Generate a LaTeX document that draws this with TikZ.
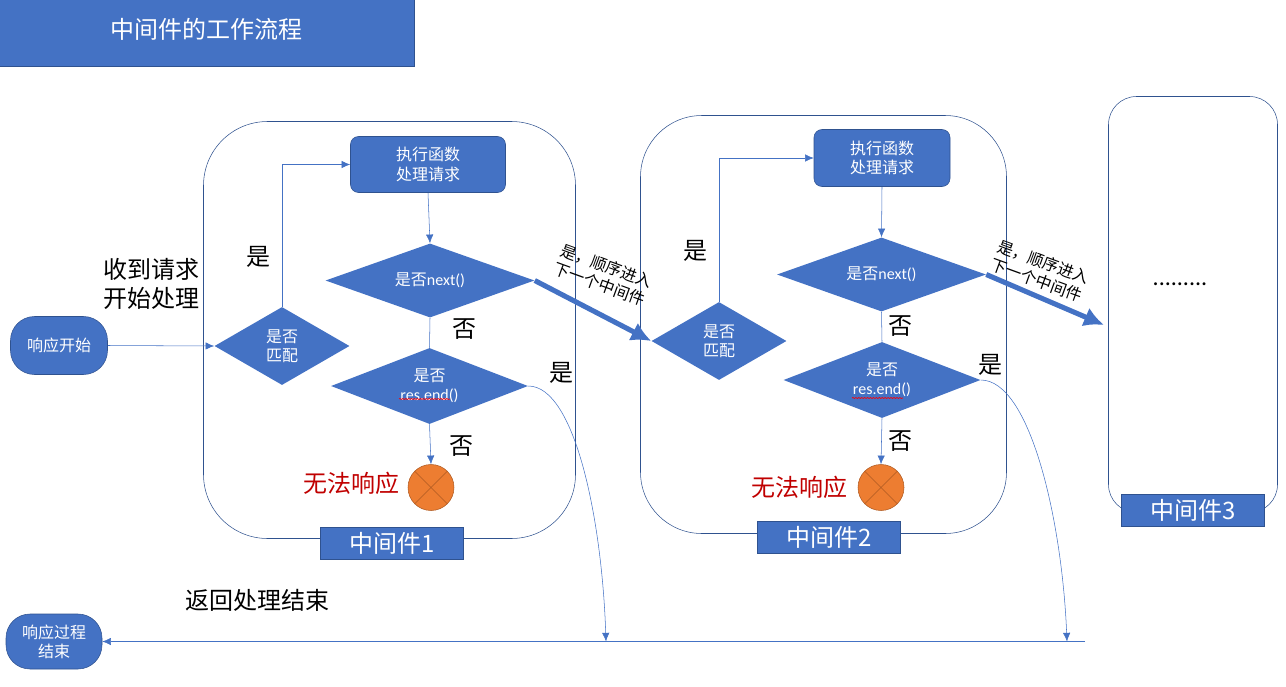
\documentclass[tikz,border=0pt]{standalone}
\usepackage{fontspec}
\setmainfont{Noto Sans CJK SC}
\newfontfamily\latin{Carlito}
\usetikzlibrary{arrows.meta, shapes.geometric, decorations.pathmorphing}
\pgfdeclarelayer{edgelayer}
\pgfdeclarelayer{nodelayer}
\pgfsetlayers{main,edgelayer,nodelayer}
\definecolor{fillblue}{HTML}{4472C4}
\definecolor{lineblue}{HTML}{2F528F}
\definecolor{fillorange}{HTML}{ED7D31}
\definecolor{lineorange}{HTML}{AE5A21}
\definecolor{warnred}{HTML}{C00000}
\tikzstyle{small}=[font=\fontsize{12}{14.4}\selectfont]
\tikzstyle{large}=[font=\fontsize{18}{21.6}\selectfont]
\tikzstyle{edge}=[draw=fillblue, -{Latex[length=6.5pt,width=5.5pt]}]
\tikzstyle{line}=[draw=fillblue]
\tikzstyle{thick edge}=[draw=fillblue, line width=3.8pt, -{Latex[length=15pt,width=15pt]}]
\tikzstyle{frame}=[draw=lineblue]
\tikzstyle{step box}=[rectangle, rounded corners=6pt, fill=fillblue, draw=lineblue, text=white, align=center, small, inner sep=0pt]
\tikzstyle{terminal}=[rectangle, rounded corners=18pt, fill=fillblue, draw=lineblue, text=white, align=center, small, inner sep=0pt]
\tikzstyle{tag}=[rectangle, fill=fillblue, draw=lineblue, text=white, large, inner sep=0pt, minimum width=107.25pt, minimum height=24pt]
\tikzstyle{choice}=[diamond, fill=fillblue, text=white, align=center, small, inner sep=0pt]
\tikzstyle{stop}=[circle, fill=fillorange, draw=lineorange, inner sep=0pt, minimum size=34.5pt]
\tikzstyle{word}=[text=black, large, align=center, inner sep=0pt]
\tikzstyle{note}=[text=black, small, align=center, inner sep=0pt, rotate=-20]
\tikzstyle{spell}=[draw=red, line width=0.5pt, decorate, decoration={snake, amplitude=0.4pt, segment length=2.2pt}]
\begin{document}
\begin{tikzpicture}[x=0.75pt, y=-0.75pt]
	\useasboundingbox (0, 0) rectangle (1286, 686);
	\draw [style=frame, rounded corners=48pt] (203.5, 121.5) rectangle (575.5, 538.5);
	\draw [style=frame, rounded corners=46pt] (640.5, 115.5) rectangle (1006.5, 533.5);
	\draw [style=frame, rounded corners=21pt] (1108.5, 96.5) rectangle (1277.5, 512.5);
	\begin{pgfonlayer}{nodelayer}
		\node [rectangle, fill=fillblue, draw=lineblue, text=white, large, minimum width=315pt, minimum height=54pt, inner sep=0pt] (title) at (204.5, 30.5) {};
		\node [text=white, large, inner sep=0pt] (titletext) at (206, 29) {中间件的工作流程};
		\node [style=terminal, minimum width=72.75pt, minimum height=43.5pt] (start) at (59, 345.5) {响应开始};
		\node [style=terminal, minimum width=72pt, minimum height=41.25pt] (finish) at (54, 641.5) {响应过程\\结束};

		\node [style=step box, minimum width=116.25pt, minimum height=42pt] (0) at (428, 164.5) {执行函数\\处理请求};
		\node [style=choice, shape aspect=2.82, minimum width=156.75pt, minimum height=55.5pt] (1) at (430, 280.5) {是否{\latin next()}};
		\node [style=choice, shape aspect=1.73, minimum width=101.25pt, minimum height=58.5pt] (2) at (282, 346) {是否\\匹配};
		\node [style=choice, shape aspect=2.59, minimum width=147.75pt, minimum height=57pt] (3) at (429.5, 386) {是否\\{\latin res.end()}};
		\node [style=stop] (4) at (431, 487.5) {};
		\node [style=tag] (5) at (392, 543.5) {中间件1};

		\node [style=step box, minimum width=102pt, minimum height=42.75pt] (6) at (882, 158) {执行函数\\处理请求};
		\node [style=choice, shape aspect=2.82, minimum width=156.75pt, minimum height=55.5pt] (7) at (881.5, 274.5) {是否{\latin next()}};
		\node [style=choice, shape aspect=1.73, minimum width=101.25pt, minimum height=58.5pt] (8) at (719, 341) {是否\\匹配};
		\node [style=choice, shape aspect=2.59, minimum width=147.75pt, minimum height=57pt] (9) at (882, 380) {是否\\{\latin res.end()}};
		\node [style=stop] (10) at (881, 487.5) {};
		\node [style=tag] (11) at (829, 537.5) {中间件2};
		\node [style=tag] (12) at (1193, 510.5) {中间件3};

		\node [style=word] (l0) at (151, 284) {收到请求\\开始处理};
		\node [style=word] (l1) at (258, 257) {是};
		\node [style=word] (l2) at (464.5, 329) {否};
		\node [style=word] (l3) at (561, 373) {是};
		\node [style=word] (l4) at (461.5, 446) {否};
		\node [style=word, text=warnred] (l5) at (351, 483) {无法响应};
		\node [style=word] (l6) at (695, 251) {是};
		\node [style=word] (l7) at (900, 326) {否};
		\node [style=word] (l8) at (990, 365) {是};
		\node [style=word] (l9) at (900, 441) {否};
		\node [style=word, text=warnred] (l10) at (799, 487) {无法响应};
		\node [style=word] (l11) at (257, 600.5) {返回处理结束};
		\node [style=note] (l12) at (603, 275) {是，顺序进入\\下一个中间件};
		\node [style=note] (l13) at (1040, 271) {是，顺序进入\\下一个中间件};
		\node [text=black, large, inner sep=0pt, anchor=base] (l14) at (1180, 285) {\latin .........};

		\draw [draw=lineorange] (4.45) -- (4.225);
		\draw [draw=lineorange] (4.135) -- (4.315);
		\draw [draw=lineorange] (10.45) -- (10.225);
		\draw [draw=lineorange] (10.135) -- (10.315);
		\draw [style=spell] (399, 399) -- (450, 399);
		\draw [style=spell] (852, 398) -- (903, 398);
	\end{pgfonlayer}
	\begin{pgfonlayer}{edgelayer}
		\coordinate (a) at (606, 641.5);
		\coordinate (b) at (1067, 641.5);
		\coordinate (c) at (1085, 641.5);
		\coordinate (d) at (1104, 325);
		\draw [style=edge] (start.east) -- (2.west);
		\draw [style=edge] (2.north) |- (0.west);
		\draw [style=edge] (0.south) -- (1.north);
		\draw [style=line] (1.south) -- (3.north);
		\draw [style=edge] (3.south) -- (4.north);
		\draw [style=thick edge] (1.east) -- (8.west);
		\draw [style=edge] (3.east) .. controls (575, 386) and (602, 520) .. (a);
		\draw [style=edge] (8.north) |- (6.west);
		\draw [style=edge] (6.south) -- (7.north);
		\draw [style=line] (7.south) -- (9.north);
		\draw [style=edge] (9.south) -- (10.north);
		\draw [style=thick edge] (7.east) -- (d);
		\draw [style=edge] (9.east) .. controls (1030, 380) and (1062, 520) .. (b);
		\draw [style=edge] (c) -- (finish.east);
	\end{pgfonlayer}
\end{tikzpicture}
\end{document}
